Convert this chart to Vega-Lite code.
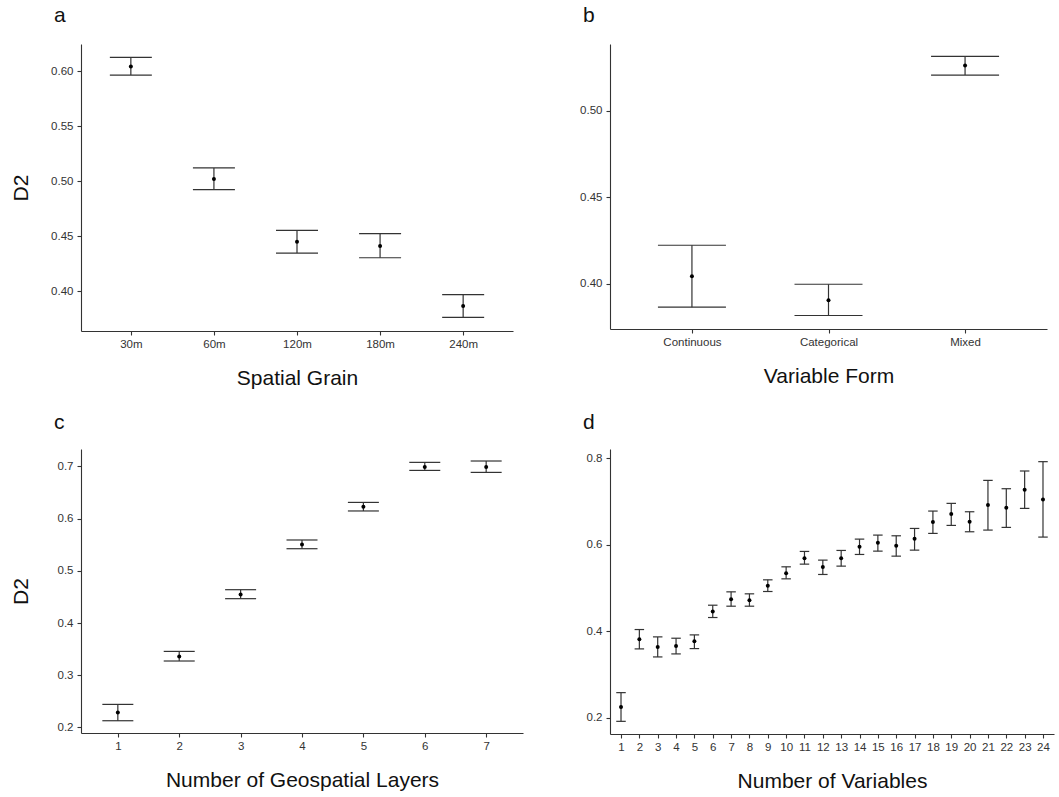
{
 "$schema": "https://vega.github.io/schema/vega-lite/v6.json",
 "background": "white",
 "padding": {"left": 10, "top": 5, "right": 5, "bottom": 5},
 "datasets": {
  "a": [
   {"grain": "30m", "mean": 0.6046, "lower": 0.5967, "upper": 0.6128},
   {"grain": "60m", "mean": 0.5023, "lower": 0.4925, "upper": 0.5123},
   {"grain": "120m", "mean": 0.4452, "lower": 0.4349, "upper": 0.4556},
   {"grain": "180m", "mean": 0.4413, "lower": 0.4306, "upper": 0.4525},
   {"grain": "240m", "mean": 0.3867, "lower": 0.3764, "upper": 0.397}
  ],
  "b": [
   {"form": "Continuous", "mean": 0.4044, "lower": 0.3866, "upper": 0.4223},
   {"form": "Categorical", "mean": 0.3906, "lower": 0.3818, "upper": 0.3998},
   {"form": "Mixed", "mean": 0.526, "lower": 0.5205, "upper": 0.5313}
  ],
  "c": [
   {"layers": 1, "mean": 0.2287, "lower": 0.2128, "upper": 0.2441},
   {"layers": 2, "mean": 0.336, "lower": 0.3272, "upper": 0.3456},
   {"layers": 3, "mean": 0.4548, "lower": 0.4466, "upper": 0.4638},
   {"layers": 4, "mean": 0.5506, "lower": 0.5423, "upper": 0.559},
   {"layers": 5, "mean": 0.6228, "lower": 0.6146, "upper": 0.631},
   {"layers": 6, "mean": 0.6987, "lower": 0.6923, "upper": 0.7077},
   {"layers": 7, "mean": 0.6987, "lower": 0.6885, "upper": 0.7103}
  ],
  "d": [
   {"vars": 1, "mean": 0.2247, "lower": 0.1915, "upper": 0.2579},
   {"vars": 2, "mean": 0.3815, "lower": 0.3591, "upper": 0.4039},
   {"vars": 3, "mean": 0.3637, "lower": 0.3405, "upper": 0.3869},
   {"vars": 4, "mean": 0.366, "lower": 0.3475, "upper": 0.3838},
   {"vars": 5, "mean": 0.3768, "lower": 0.3598, "upper": 0.3915},
   {"vars": 6, "mean": 0.4456, "lower": 0.4317, "upper": 0.4602},
   {"vars": 7, "mean": 0.4741, "lower": 0.4579, "upper": 0.4911},
   {"vars": 8, "mean": 0.4718, "lower": 0.4579, "upper": 0.4865},
   {"vars": 9, "mean": 0.505, "lower": 0.4919, "upper": 0.5189},
   {"vars": 10, "mean": 0.5344, "lower": 0.5212, "upper": 0.549},
   {"vars": 11, "mean": 0.5691, "lower": 0.5552, "upper": 0.5846},
   {"vars": 12, "mean": 0.5483, "lower": 0.5313, "upper": 0.5645},
   {"vars": 13, "mean": 0.5691, "lower": 0.5506, "upper": 0.5869},
   {"vars": 14, "mean": 0.5954, "lower": 0.5776, "upper": 0.6131},
   {"vars": 15, "mean": 0.6046, "lower": 0.5853, "upper": 0.6224},
   {"vars": 16, "mean": 0.5977, "lower": 0.5737, "upper": 0.6208},
   {"vars": 17, "mean": 0.6139, "lower": 0.5876, "upper": 0.6378},
   {"vars": 18, "mean": 0.6525, "lower": 0.6263, "upper": 0.678},
   {"vars": 19, "mean": 0.671, "lower": 0.6448, "upper": 0.6958},
   {"vars": 20, "mean": 0.6533, "lower": 0.6301, "upper": 0.6764},
   {"vars": 21, "mean": 0.6919, "lower": 0.634, "upper": 0.749},
   {"vars": 22, "mean": 0.6857, "lower": 0.6402, "upper": 0.7297},
   {"vars": 23, "mean": 0.7274, "lower": 0.6842, "upper": 0.7707},
   {"vars": 24, "mean": 0.705, "lower": 0.6178, "upper": 0.7923}
  ]
 },
 "columns": 2,
 "bounds": "flush",
 "align": "each",
 "spacing": {"row": 118, "column": 87},
 "config": {
  "font": "Liberation Sans",
  "view": {"stroke": null},
  "axis": {"grid": false, "domainColor": "#333", "domainWidth": 1.1, "tickColor": "#333", "tickWidth": 1.1, "tickSize": 4, "labelFontSize": 11.5, "labelColor": "#333", "labelPadding": 3, "titleFontSize": 21, "titleFontWeight": "normal", "titleColor": "#111", "labelOverlap": false, "labelAngle": 0},
  "axisY": {"labelPadding": 4},
  "title": {"fontSize": 21, "fontWeight": "normal", "anchor": "start", "frame": "group", "color": "#111", "baseline": "alphabetic", "offset": 18, "dx": -27}
 },
 "concat": [
  {
   "title": "a",
   "width": 432, "height": 287,
   "data": {"name": "a"},
   "encoding": {
    "x": {"field": "grain", "type": "ordinal", "sort": ["30m", "60m", "120m", "180m", "240m"], "scale": {"type": "point", "padding": 0.6}, "axis": {"title": "Spatial Grain", "titlePadding": 18}}
   },
   "layer": [
    {"mark": {"type": "rule", "color": "#333", "strokeWidth": 1.2},
     "encoding": {"y": {"field": "lower", "type": "quantitative", "title": "D2", "scale": {"domain": [0.364, 0.625], "nice": false, "zero": false}, "axis": {"values": [0.4, 0.45, 0.5, 0.55, 0.6], "format": ".2f", "titlePadding": 19}}, "y2": {"field": "upper"}}},
    {"mark": {"type": "tick", "color": "#333", "size": 42, "thickness": 1.2, "orient": "horizontal", "opacity": 1},
     "encoding": {"y": {"field": "upper", "type": "quantitative", "title": "D2"}}},
    {"mark": {"type": "tick", "color": "#333", "size": 42, "thickness": 1.2, "orient": "horizontal", "opacity": 1},
     "encoding": {"y": {"field": "lower", "type": "quantitative", "title": "D2"}}},
    {"mark": {"type": "point", "filled": true, "color": "black", "size": 16, "opacity": 1},
     "encoding": {"y": {"field": "mean", "type": "quantitative", "title": "D2"}}}
   ]
  },
  {
   "title": "b",
   "width": 437, "height": 285,
   "data": {"name": "b"},
   "encoding": {
    "x": {"field": "form", "type": "ordinal", "sort": ["Continuous", "Categorical", "Mixed"], "scale": {"type": "point", "padding": 0.6}, "axis": {"title": "Variable Form", "titlePadding": 18}}
   },
   "layer": [
    {"mark": {"type": "rule", "color": "#333", "strokeWidth": 1.2},
     "encoding": {"y": {"field": "lower", "type": "quantitative", "title": null, "scale": {"domain": [0.374, 0.5384], "nice": false, "zero": false}, "axis": {"values": [0.4, 0.45, 0.5], "format": ".2f"}}, "y2": {"field": "upper"}}},
    {"mark": {"type": "tick", "color": "#333", "size": 68, "thickness": 1.2, "orient": "horizontal", "opacity": 1},
     "encoding": {"y": {"field": "upper", "type": "quantitative", "title": null}}},
    {"mark": {"type": "tick", "color": "#333", "size": 68, "thickness": 1.2, "orient": "horizontal", "opacity": 1},
     "encoding": {"y": {"field": "lower", "type": "quantitative", "title": null}}},
    {"mark": {"type": "point", "filled": true, "color": "black", "size": 16, "opacity": 1},
     "encoding": {"y": {"field": "mean", "type": "quantitative", "title": null}}}
   ]
  },
  {
   "title": {"text": "c", "offset": 16},
   "width": 442, "height": 284,
   "data": {"name": "c"},
   "encoding": {
    "x": {"field": "layers", "type": "ordinal", "scale": {"type": "point", "padding": 0.6}, "axis": {"title": "Number of Geospatial Layers", "titlePadding": 18}}
   },
   "layer": [
    {"mark": {"type": "rule", "color": "#333", "strokeWidth": 1.2},
     "encoding": {"y": {"field": "lower", "type": "quantitative", "title": "D2", "scale": {"domain": [0.1893, 0.7333], "nice": false, "zero": false}, "axis": {"values": [0.2, 0.3, 0.4, 0.5, 0.6, 0.7], "format": ".1f", "titlePadding": 26}}, "y2": {"field": "upper"}}},
    {"mark": {"type": "tick", "color": "#333", "size": 31, "thickness": 1.2, "orient": "horizontal", "opacity": 1},
     "encoding": {"y": {"field": "upper", "type": "quantitative", "title": "D2"}}},
    {"mark": {"type": "tick", "color": "#333", "size": 31, "thickness": 1.2, "orient": "horizontal", "opacity": 1},
     "encoding": {"y": {"field": "lower", "type": "quantitative", "title": "D2"}}},
    {"mark": {"type": "point", "filled": true, "color": "black", "size": 16, "opacity": 1},
     "encoding": {"y": {"field": "mean", "type": "quantitative", "title": "D2"}}}
   ]
  },
  {
   "title": {"text": "d", "offset": 16},
   "width": 444, "height": 285,
   "data": {"name": "d"},
   "encoding": {
    "x": {"field": "vars", "type": "ordinal", "scale": {"type": "point", "padding": 0.6}, "axis": {"title": "Number of Variables", "titlePadding": 18}}
   },
   "layer": [
    {"mark": {"type": "rule", "color": "#333", "strokeWidth": 1.2},
     "encoding": {"y": {"field": "lower", "type": "quantitative", "title": null, "scale": {"domain": [0.1622, 0.8216], "nice": false, "zero": false}, "axis": {"values": [0.2, 0.4, 0.6, 0.8], "format": ".1f"}}, "y2": {"field": "upper"}}},
    {"mark": {"type": "tick", "color": "#333", "size": 9.5, "thickness": 1.2, "orient": "horizontal", "opacity": 1},
     "encoding": {"y": {"field": "upper", "type": "quantitative", "title": null}}},
    {"mark": {"type": "tick", "color": "#333", "size": 9.5, "thickness": 1.2, "orient": "horizontal", "opacity": 1},
     "encoding": {"y": {"field": "lower", "type": "quantitative", "title": null}}},
    {"mark": {"type": "point", "filled": true, "color": "black", "size": 16, "opacity": 1},
     "encoding": {"y": {"field": "mean", "type": "quantitative", "title": null}}}
   ]
  }
 ]
}
